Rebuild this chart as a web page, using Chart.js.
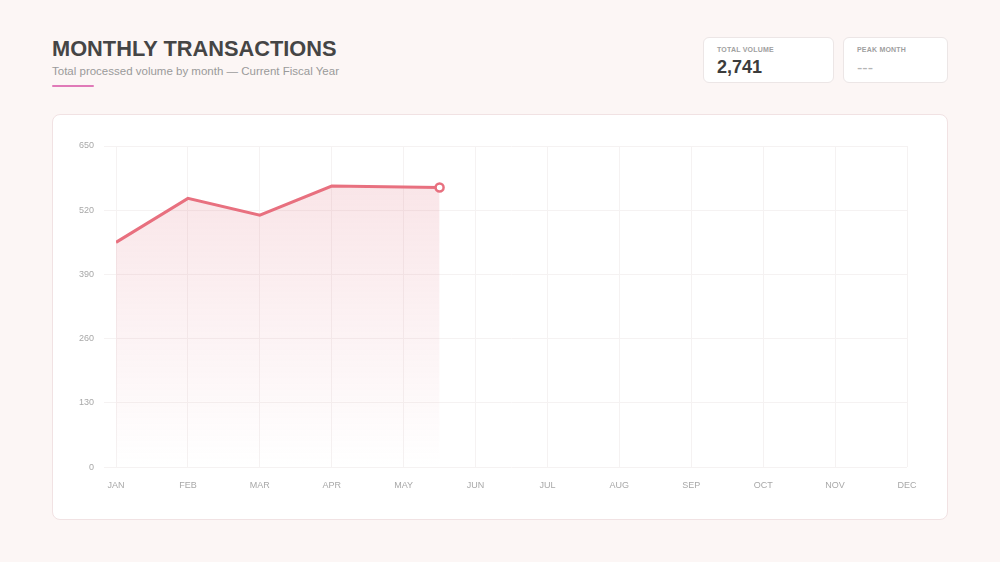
<!DOCTYPE html>
<html>
<head>
<meta charset="utf-8">
<script src="https://cdn.jsdelivr.net/npm/chart.js@4.4.1/dist/chart.umd.min.js"></script>
<style>
  html, body { margin: 0; padding: 0; }
  body {
    width: 1000px; height: 562px; background: #fcf6f5; position: relative;
    font-family: 'Liberation Sans', Arial, sans-serif; overflow: hidden;
  }
  .title { position: absolute; left: 52px; top: 36px; font-size: 21.8px; font-weight: bold; color: #454545; }
  .subtitle { position: absolute; left: 52px; top: 65px; font-size: 11.5px; color: #9a9a9a; }
  .accent { position: absolute; left: 52px; top: 85px; width: 42px; height: 2px; background: #e07ab8; border-radius: 1px; }
  .card { position: absolute; top: 37px; height: 46px; background: #fff; border: 1px solid #ece6e6; border-radius: 6px; box-sizing: border-box; }
  .card .lbl { position: absolute; left: 13px; top: 8px; font-size: 7px; font-weight: bold; color: #a0a0a0; letter-spacing: 0.2px; }
  .card .val { position: absolute; left: 13px; top: 19px; font-size: 18px; font-weight: bold; color: #3c3c3c; }
  .card .dash { color: #b5b5b5; font-weight: normal; font-size: 16px; top: 21px; }
  .panel { position: absolute; left: 52px; top: 114px; width: 896px; height: 406px; background: #fff; border: 1px solid #f1e2e3; border-radius: 8px; box-sizing: border-box; }
  .panel canvas { position: absolute; left: 0; top: 0; }
</style>
</head>
<body>
<div class="title">MONTHLY TRANSACTIONS</div>
<div class="subtitle">Total processed volume by month — Current Fiscal Year</div>
<div class="accent"></div>
<div class="card" style="left:703px; width:131px;">
  <div class="lbl">TOTAL VOLUME</div>
  <div class="val">2,741</div>
</div>
<div class="card" style="left:843px; width:105px;">
  <div class="lbl">PEAK MONTH</div>
  <div class="val dash">---</div>
</div>
<div class="panel"><canvas id="chart" width="896" height="406"></canvas></div>

<script>
// month labels on the x axis
const months = ['JAN', 'FEB', 'MAR', 'APR', 'MAY', 'JUN', 'JUL', 'AUG', 'SEP', 'OCT', 'NOV', 'DEC']
// positions of the plotted points on the month axis (the last one stops half way to JUN)
const pointPos = [0, 1, 2, 3, 4.5]
// processed volume
const volumes = [455, 544, 510, 569, 566]
// y ticks
const yTicks = [0, 130, 260, 390, 520, 650]

const lineColor = '#e8707f'
const gridColor = '#f5f2f2'

const ctx = document.getElementById('chart').getContext('2d')

new Chart(ctx, {
  type: 'line',
  data: {
    datasets: [
      {
        data: pointPos.map((x, i) => ({ x, y: volumes[i] })),
        borderColor: lineColor,
        borderWidth: 3,
        tension: 0,
        fill: 'origin',
        backgroundColor: (c) => {
          const area = c.chart.chartArea
          if (!area) return 'rgba(232,112,127,0.15)'
          const g = c.chart.ctx.createLinearGradient(0, area.top, 0, area.bottom)
          g.addColorStop(0, 'rgba(225,120,135,0.22)')
          g.addColorStop(1, 'rgba(225,120,135,0)')
          return g
        },
        pointRadius: (c) => c.dataIndex === volumes.length - 1 ? 4 : 0,
        pointHoverRadius: 0,
        pointBackgroundColor: '#fff',
        pointBorderColor: lineColor,
        pointBorderWidth: 2.5
      }
    ]
  },
  options: {
    responsive: false,
    animation: false,
    layout: { padding: { left: 0, right: 42, top: 31, bottom: 17 } },
    plugins: { legend: { display: false }, tooltip: { enabled: false } },
    scales: {
      x: {
        type: 'linear',
        min: 0,
        max: months.length - 1,
        border: { display: false },
        grid: { color: gridColor, drawTicks: false },
        ticks: {
          stepSize: 1,
          padding: 13,
          color: '#a8a8a8',
          font: { family: "'Liberation Sans', Arial, sans-serif", size: 9 },
          callback: (v) => months[v]
        }
      },
      y: {
        min: yTicks[0],
        max: yTicks[yTicks.length - 1],
        border: { display: false },
        afterFit: (s) => { s.width = 63 },
        afterBuildTicks: (s) => { s.ticks = yTicks.map(v => ({ value: v })) },
        grid: { color: gridColor, tickLength: 12, tickColor: gridColor },
        ticks: {
          padding: 10,
          color: '#a8a8a8',
          font: { family: "'Liberation Sans', Arial, sans-serif", size: 9 }
        }
      }
    }
  }
})
</script>
</body>
</html>
